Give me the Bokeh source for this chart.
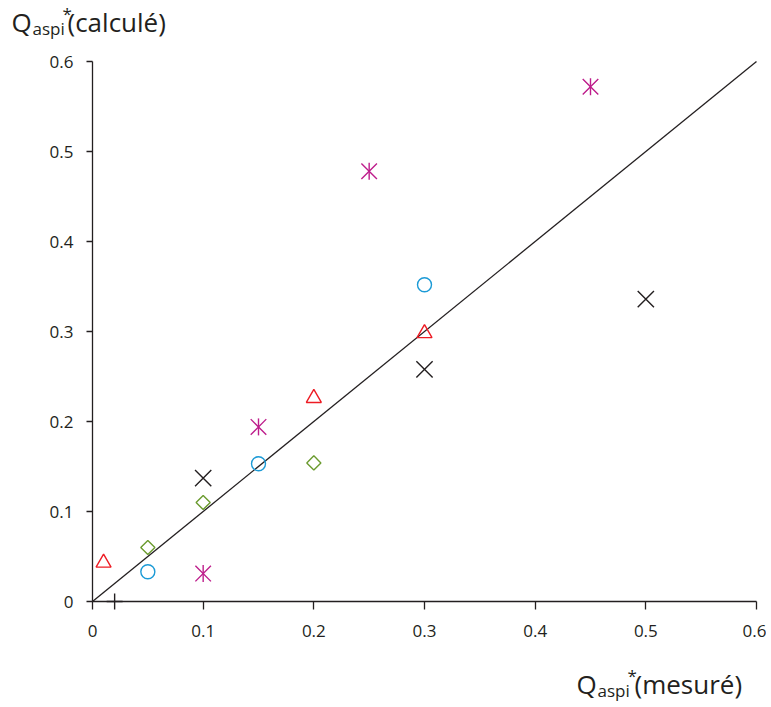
import numpy as np
from bokeh.plotting import figure
from bokeh.models import Range1d, FixedTicker, Label
from bokeh.embed import file_html
from bokeh.resources import INLINE

# ---- data ----
ticks = [0, 0.1, 0.2, 0.3, 0.4, 0.5, 0.6]
tick_labels = ["0", "0.1", "0.2", "0.3", "0.4", "0.5", "0.6"]

plus_x = [0.02]
plus_y = [0.0]
tri_x = [0.01, 0.2, 0.3]
tri_y = [0.043, 0.226, 0.298]
circ_x = [0.05, 0.15, 0.3]
circ_y = [0.033, 0.153, 0.352]
diam_x = [0.05, 0.1, 0.2]
diam_y = [0.06, 0.11, 0.154]
xmark_x = [0.1, 0.3, 0.5]
xmark_y = [0.137, 0.258, 0.336]
star_x = [0.1, 0.15, 0.25, 0.45]
star_y = [0.031, 0.194, 0.478, 0.572]
ref_x = [0, 0.6]
ref_y = [0, 0.6]

FONT = "Open Sans"
INK = "#231f20"

# ---- layout (pixels) ----
W, H = 766, 707
X0_PX, X1_PX = 92, 756   # pixel of x=0 and x=0.6
Y0_PX, Y1_PX = 601, 61   # pixel of y=0 and y=0.6
sx = (X1_PX - X0_PX) / 0.6
sy = (Y0_PX - Y1_PX) / 0.6
x_range = Range1d(-X0_PX / sx, (W - X0_PX) / sx)
y_range = Range1d(-(H - Y0_PX) / sy, Y0_PX / sy)

p = figure(width=W, height=H, output_backend="svg", toolbar_location=None,
           x_range=x_range, y_range=y_range, min_border=0)
p.outline_line_color = None
p.xgrid.visible = False
p.ygrid.visible = False
p.background_fill_color = "white"
p.border_fill_color = "white"

overrides = {t: l for t, l in zip(ticks, tick_labels)}
for ax in (p.xaxis[0], p.yaxis[0]):
    ax.fixed_location = 0
    ax.bounds = (ticks[0], ticks[-1])
    ax.ticker = FixedTicker(ticks=ticks)
    ax.major_label_overrides = overrides
    ax.minor_tick_line_color = None
    ax.axis_line_color = INK
    ax.major_tick_line_color = INK
    ax.axis_line_width = 1.3
    ax.major_tick_line_width = 1.3
    ax.major_tick_in = 0
    ax.major_label_text_font = FONT
    ax.major_label_text_font_size = "17px"
    ax.major_label_text_color = INK
p.xaxis[0].major_tick_out = 8
p.xaxis[0].major_label_standoff = 15
p.yaxis[0].major_tick_out = 6
p.yaxis[0].major_label_standoff = 13

# reference line
p.line(ref_x, ref_y, line_color=INK, line_width=1.3)

lw = 1.4
p.scatter(plus_x, plus_y, marker="cross", size=16, line_color=INK, line_width=lw)
p.scatter(tri_x, tri_y, marker="triangle", size=15, line_color="#ed1c24", fill_color=None, line_width=lw)
p.scatter(circ_x, circ_y, marker="circle", size=14, line_color="#1b9ad6", fill_color=None, line_width=lw)
p.scatter(diam_x, diam_y, marker="square", angle=np.pi / 4, size=10, line_color="#6b9b2f", fill_color=None, line_width=lw)
p.scatter(xmark_x, xmark_y, marker="x", size=23, line_color=INK, line_width=lw)
p.scatter(star_x, star_y, marker="x", size=22, line_color="#be1e8c", line_width=lw)
p.scatter(star_x, star_y, marker="dash", angle=np.pi / 2, size=17, line_color="#be1e8c", line_width=lw)

# axis titles (screen coords; frame covers the whole canvas)
def lab(x_page, y_page, text, size):
    p.add_layout(Label(x=x_page, y=H - y_page, x_units="screen", y_units="screen",
                       text=text, text_font=FONT, text_font_size=size, text_color=INK,
                       text_baseline="alphabetic", text_align="left"))

# y title
lab(11, 21, "Q", "26px")
lab(32, 28, "aspi", "17px")
lab(62, 13, "*", "17px")
lab(67, 21, "(calculé)", "26px")

# x title
lab(576, 683, "Q", "26px")
lab(597, 690, "aspi", "17px")
lab(627, 675, "*", "17px")
lab(634, 683, "(mesuré)", "26px")

open("out.html", "w").write(file_html(p, INLINE))
